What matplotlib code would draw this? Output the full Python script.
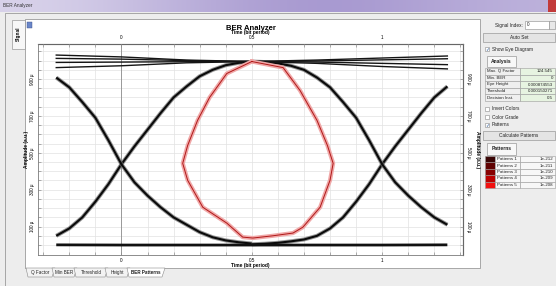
import numpy as np
import matplotlib.pyplot as plt
from matplotlib.patches import Rectangle, Polygon
from matplotlib.colors import LinearSegmentedColormap

plt.rcParams['font.family'] = ['Liberation Sans', 'DejaVu Sans']

W, H = 556, 286

# eye diagram, time in bit periods, amplitude in micro a.u.
edge_tau = [-0.50, -0.45, -0.40, -0.35, -0.30, -0.25, -0.20, -0.15, -0.10, -0.05, 0.00,
            0.05, 0.10, 0.15, 0.20, 0.25, 0.30, 0.35, 0.40, 0.45, 0.50]
rise_amp = [4, 7, 12, 20, 30, 50, 90, 150, 235, 330, 438,
            535, 625, 715, 800, 860, 915, 950, 975, 988, 993]
fall_amp = [995, 992, 985, 972, 950, 908, 855, 775, 690, 568, 438,
            340, 268, 205, 150, 110, 70, 42, 25, 15, 8]
edge_times = [0, 1]

rail_t = [-0.25, 0.0, 0.25, 0.5, 0.75, 1.0, 1.25]
top_1 = [1030, 1020, 1003, 995, 1003, 1014, 1025]
top_2 = [1012, 1008, 1000, 995, 998, 1004, 1010]
top_3 = [990, 992, 994, 995, 992, 985, 978]
top_4 = [962, 972, 988, 995, 985, 968, 955]
low_rail = [1, 0, 0, 0, 0, 0, 1]

# BER pattern contour
pattern_t = [0.500, 0.404, 0.338, 0.292, 0.254, 0.235, 0.254, 0.312, 0.404, 0.465, 0.504,
             0.580, 0.658, 0.696, 0.762, 0.800, 0.812, 0.790, 0.750, 0.685, 0.620, 0.500]
pattern_amp = [995, 930, 800, 676, 540, 443, 351, 205, 119, 43, 38,
               50, 65, 97, 205, 351, 443, 540, 676, 838, 962, 995]

x_ticks = [0, 0.5, 1]
x_tick_labels = ['0', '0.5', '1']
y_ticks = [100, 300, 500, 700, 900]
y_tick_labels = ['100 μ', '300 μ', '500 μ', '700 μ', '900 μ']

analysis_names = ['Max. Q Factor', 'Min. BER', 'Eye Height', 'Threshold', 'Decision Inst.']
analysis_values = ['124.545', '0', '0.000874553', '0.000150271', '0.5']
pattern_names = ['Patterns 1', 'Patterns 2', 'Patterns 3', 'Patterns 4', 'Patterns 5']
pattern_ber = ['1e-212', '1e-211', '1e-210', '1e-209', '1e-208']
pattern_colors = ['#3a0505', '#600202', '#880000', '#bb0000', '#f21010']
bottom_tabs = ['Q Factor', 'Min BER', 'Threshold', 'Height', 'BER Patterns']
tab_edges = [26, 52, 74, 105, 127, 162]

fig = plt.figure(figsize=(W / 100, H / 100), dpi=100)
fig.patch.set_facecolor('#ededed')


def fx(x):
    return x / W


def fy(y):
    return 1 - y / H


def box(x0, y0, x1, y1, fc, ec='none', lw=0.6, z=-5):
    fig.add_artist(Rectangle((fx(x0), fy(y1)), (x1 - x0) / W, (y1 - y0) / H,
                             transform=fig.transFigure, fc=fc, ec=ec, lw=lw, zorder=z))


def label(x, y, s, size=3.5, **kw):
    fig.text(fx(x), fy(y), s, fontsize=size, va='center', **kw)


def checkbox(x, y, text, checked=False):
    box(x, y - 2.2, x + 4.4, y + 2.2, 'white', '#8a8a8a', 0.4, z=2)
    if checked:
        label(x + 2.2, y, '✓', 3.6, ha='center', color='#2a5a9a', zorder=3)
    label(x + 6.5, y, text, 3.4, color='#222')


# title bar
tb = fig.add_axes([0, fy(12), 1, 12 / H], zorder=-3)
grad = np.array([[0.0, 0.35, 0.75, 1.0, 0.8, 0.55]])
tb_cmap = LinearSegmentedColormap.from_list('tb', ['#d8d2ea', '#a596cf'])
tb.imshow(grad, aspect='auto', cmap=tb_cmap, extent=(0, 1, 0, 1), interpolation='bicubic')
tb.axis('off')
box(548, 0, 556, 12, '#c23a3a', z=-2)
label(3, 5, 'BER Analyzer', 3.4, color='#333')

# window frame and left tab
box(5, 13, 556, 286, '#ededed', '#9a9a9a', 0.6, z=-6)
box(12, 20, 25, 49, '#f7f7f7', '#9a9a9a', 0.5)
label(18.5, 34, 'Signal', 3.4, ha='center', rotation=90, fontweight='bold')

# plot panel
box(25, 19, 480, 268, 'white', '#9a9a9a', 0.6)
box(27, 22, 32, 28, '#6a86c8', '#3a4f8a', 0.3, z=-4)

# bottom tabs
for i, name in enumerate(bottom_tabs):
    x0, x1 = tab_edges[i], tab_edges[i + 1]
    active = name == 'BER Patterns'
    fig.add_artist(Polygon([(fx(x0), fy(268)), (fx(x0 + 2), fy(277)), (fx(x1), fy(277)),
                            (fx(x1 + 3), fy(268))], closed=True, transform=fig.transFigure,
                           fc='white' if active else '#f3f3f3', ec='#8a8a8a', lw=0.4,
                           zorder=-4 + active))
    label((x0 + x1) / 2 + 1.5, 272.5, name, 3.3, ha='center',
          fontweight='bold' if active else 'normal', color='#222')

# eye diagram axes
ax = fig.add_axes([fx(38), fy(255), (463 - 38) / W, (255 - 44) / H])
ax.set_facecolor('white')
ax.set_xlim(-0.32, 1.31)
ax.set_ylim(-54, 1090)

ax.set_xticks(x_ticks, labels=x_tick_labels)
ax.set_xticks(np.arange(-0.3, 1.31, 0.1), minor=True)
ax.set_yticks(y_ticks, labels=y_tick_labels)
ax.set_yticks(np.arange(0, 1051, 50), minor=True)
ax.grid(True, which='both', color='#e2e2e2', lw=0.5)
ax.set_axisbelow(True)
ax.axvline(0, color='#8c8c8c', lw=0.6, zorder=1)
ax.tick_params(which='both', direction='in', length=2, width=0.4, color='#777',
               labelsize=3.3, pad=2, top=True, right=True)
ax.tick_params(axis='y', labelrotation=90)
for lab in ax.get_yticklabels():
    lab.set_va('center')
for s in ax.spines.values():
    s.set_color('#7a7a7a')
    s.set_linewidth(0.6)
ax.set_xlabel('Time (bit period)', fontsize=3.5, fontweight='bold', labelpad=0.5)
ax.set_ylabel('Amplitude (a.u.)', fontsize=3.5, fontweight='bold', labelpad=1)

top = ax.secondary_xaxis('top')
top.set_xticks(x_ticks, labels=x_tick_labels)
top.tick_params(length=0, labelsize=3.3, pad=3)
top.set_xlabel('Time (bit period)', fontsize=3.5, fontweight='bold', labelpad=0.5)
right = ax.secondary_yaxis('right')
right.set_yticks(y_ticks, labels=y_tick_labels)
right.tick_params(length=0, labelsize=3.3, pad=2.5, labelrotation=270)
for lab in right.get_yticklabels():
    lab.set_va('center')
right.set_ylabel('Amplitude (a.u.)', fontsize=3.5, fontweight='bold', labelpad=2.5,
                 rotation=270, va='bottom')
fig.text(fx(251), fy(28), 'BER Analyzer', fontsize=5.5, fontweight='bold',
         ha='center', va='center')

# traces
tau = np.array(edge_tau)
for t0 in edge_times:
    t = tau + t0
    keep = (t >= -0.25) & (t <= 1.25)
    for amp in (rise_amp, fall_amp):
        a = np.array(amp)[keep]
        ax.plot(t[keep], a, color='#6a6a6a', lw=2.9, alpha=0.7, solid_capstyle='butt')
        ax.plot(t[keep], a, color='#0a0a0a', lw=1.5, solid_capstyle='butt')
for tr in (top_1, top_2, top_3, top_4):
    ax.plot(rail_t, tr, color='#151515', lw=1.0)
ax.plot(rail_t, low_rail, color='#111', lw=2.0, solid_capstyle='butt')

ax.plot(pattern_t, pattern_amp, color='#f0a8a8', lw=3.0, solid_joinstyle='round')
ax.plot(pattern_t, pattern_amp, color='#b01818', lw=0.7, solid_joinstyle='round')

# right control panel
label(523, 25, 'Signal Index:', 3.4, ha='right', color='#222')
box(525, 21, 549, 29, 'white', '#8a8a8a', 0.4)
label(527, 25, '0', 3.4, color='#222')
box(549, 21, 555, 29, '#e8e8e8', '#8a8a8a', 0.4)

box(483, 33, 555, 42, '#e4e4e4', '#9a9a9a', 0.5)
label(519, 37.5, 'Auto Set', 3.4, ha='center', color='#222')
checkbox(485, 49, 'Show Eye Diagram', True)

box(487, 56, 516, 67, '#f8f8f8', '#9a9a9a', 0.5)
label(501.5, 61.5, 'Analysis', 3.6, ha='center', fontweight='bold', color='#222')
row_h = 6.6
for i, (n, v) in enumerate(zip(analysis_names, analysis_values)):
    y0 = 68 + i * row_h
    box(485, y0, 520, y0 + row_h, '#efefef', '#9a9a9a', 0.4)
    box(520, y0, 555, y0 + row_h, '#e7f4e1', '#9a9a9a', 0.4)
    label(487, y0 + row_h / 2, n, 3.2, color='#222')
    label(553, y0 + row_h / 2, v, 3.2, ha='right', color='#222')

checkbox(485, 109, 'Invert Colors')
checkbox(485, 117, 'Color Grade')
checkbox(485, 125, 'Patterns', True)

box(483, 131, 555, 140, '#e4e4e4', '#9a9a9a', 0.5)
label(519, 135.5, 'Calculate Patterns', 3.4, ha='center', color='#222')

box(487, 143, 516, 155, '#f8f8f8', '#9a9a9a', 0.5)
label(501.5, 149, 'Patterns', 3.6, ha='center', fontweight='bold', color='#222')
row_h = 6.4
for i, (n, v, c) in enumerate(zip(pattern_names, pattern_ber, pattern_colors)):
    y0 = 156 + i * row_h
    box(485, y0, 495, y0 + row_h, c, '#9a9a9a', 0.4)
    box(495, y0, 520, y0 + row_h, '#f7f7f7', '#9a9a9a', 0.4)
    box(520, y0, 555, y0 + row_h, '#f7f7f7', '#9a9a9a', 0.4)
    label(497, y0 + row_h / 2, n, 3.2, color='#222')
    label(553, y0 + row_h / 2, v, 3.2, ha='right', color='#222')

fig.savefig('out.png', dpi=100)
